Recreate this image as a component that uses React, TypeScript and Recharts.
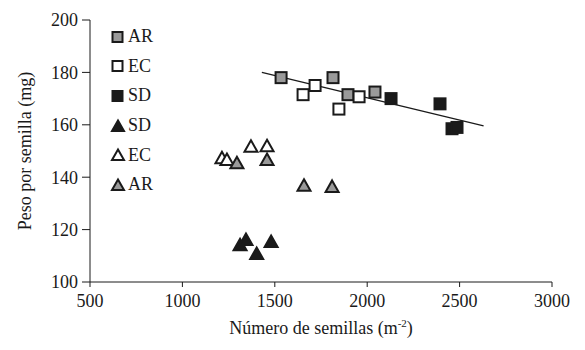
import React from "react";
import {
  ScatterChart, Scatter, XAxis, YAxis, ReferenceLine, Label,
} from "recharts";

// square markers (upper group)
const arSquares = [
  { x: 1534, y: 178 }, { x: 1815, y: 178 }, { x: 1896, y: 171.5 }, { x: 2042, y: 172.5 },
];
const ecSquares = [
  { x: 1653, y: 171.5 }, { x: 1718, y: 175 }, { x: 1847, y: 166 }, { x: 1956, y: 170.7 },
];
const sdSquares = [
  { x: 2129, y: 170 }, { x: 2394, y: 168 }, { x: 2459, y: 158.5 }, { x: 2486, y: 159 },
];

// triangle markers (lower group)
const sdTriangles = [
  { x: 1312, y: 114 }, { x: 1344, y: 116 }, { x: 1402, y: 110.7 }, { x: 1480, y: 115.3 },
];
const ecTriangles = [
  { x: 1214, y: 147.2 }, { x: 1241, y: 146.6 }, { x: 1371, y: 151.6 }, { x: 1458, y: 151.8 },
];
const arTriangles = [
  { x: 1295, y: 145.3 }, { x: 1458, y: 146.6 }, { x: 1658, y: 136.7 }, { x: 1810, y: 136.3 },
];

const trendLine = [{ x: 1430, y: 180 }, { x: 2630, y: 159.6 }];

const xTicks = [500, 1000, 1500, 2000, 2500, 3000];
const yTicks = [100, 120, 140, 160, 180, 200];

const FONT = "Liberation Serif, Times New Roman, serif";
const INK = "#1a1a1a";
const GRAY = "#9a9a9a";

const squareShape = (fill: string) => (p: any) => (
  <rect x={p.cx - 5.5} y={p.cy - 5.5} width={11} height={11} fill={fill} stroke={INK} strokeWidth={2} />
);

const triangleShape = (fill: string) => (p: any) => (
  <polygon
    points={`${p.cx},${p.cy - 6.5} ${p.cx + 6.5},${p.cy + 5} ${p.cx - 6.5},${p.cy + 5}`}
    fill={fill} stroke={INK} strokeWidth={2} strokeLinejoin="miter"
  />
);

const legendItems = [
  { label: "AR", kind: "sq", fill: GRAY },
  { label: "EC", kind: "sq", fill: "#fff" },
  { label: "SD", kind: "sq", fill: INK },
  { label: "SD", kind: "tri", fill: INK },
  { label: "EC", kind: "tri", fill: "#fff" },
  { label: "AR", kind: "tri", fill: GRAY },
];

function XLabel(props: any) {
  const vb = props.viewBox;
  const cx = vb.x + vb.width / 2;
  return (
    <text x={cx} y={vb.y + 52} textAnchor="middle" fontFamily={FONT} fontSize={18} fill={INK}>
      Número de semillas (m
      <tspan dy={-7} fontSize={11}>-2</tspan>
      <tspan dy={7}>)</tspan>
    </text>
  );
}

export default function App() {
  return (
    <div style={{ position: "absolute", left: 0, top: 0, width: 585, height: 350, background: "#fff" }}>
      <ScatterChart width={585} height={350} margin={{ top: 20, right: 33, bottom: 38, left: 30 }}>
        <XAxis
          type="number" dataKey="x" domain={[500, 3000]} ticks={xTicks} height={30}
          tickSize={5} tickMargin={7} stroke={INK}
          tick={{ fontFamily: FONT, fontSize: 18, fill: INK }}
          label={<XLabel />}
        />
        <YAxis
          type="number" dataKey="y" domain={[100, 200]} ticks={yTicks} width={60}
          tickSize={8} tickMargin={4} stroke={INK}
          tick={{ fontFamily: FONT, fontSize: 18, fill: INK }}
        >
          <Label
            value="Peso por semilla (mg)" angle={-90} position="insideLeft" offset={-5}
            style={{ fontFamily: FONT, fontSize: 18, fill: INK, textAnchor: "middle" }}
          />
        </YAxis>
        <ReferenceLine segment={trendLine} stroke={INK} strokeWidth={1.3} ifOverflow="visible" />
        <Scatter data={arSquares} shape={squareShape(GRAY)} isAnimationActive={false} />
        <Scatter data={ecSquares} shape={squareShape("#fff")} isAnimationActive={false} />
        <Scatter data={sdSquares} shape={squareShape(INK)} isAnimationActive={false} />
        <Scatter data={sdTriangles} shape={triangleShape(INK)} isAnimationActive={false} />
        <Scatter data={ecTriangles} shape={triangleShape("#fff")} isAnimationActive={false} />
        <Scatter data={arTriangles} shape={triangleShape(GRAY)} isAnimationActive={false} />
      </ScatterChart>
      <div style={{ position: "absolute", left: 110, top: 22, fontFamily: FONT, fontSize: 18, color: INK }}>
        {legendItems.map((it, i) => (
          <div key={i} style={{ height: 29.6, display: "flex", alignItems: "center" }}>
            <svg width={16} height={16} style={{ marginRight: 2 }}>
              {it.kind === "sq" ? (
                <rect x={2.5} y={3} width={10} height={10} fill={it.fill} stroke={INK} strokeWidth={2} />
              ) : (
                <polygon points="8,2.5 14,13 2,13" fill={it.fill} stroke={INK} strokeWidth={2} />
              )}
            </svg>
            <span>{it.label}</span>
          </div>
        ))}
      </div>
    </div>
  );
}
